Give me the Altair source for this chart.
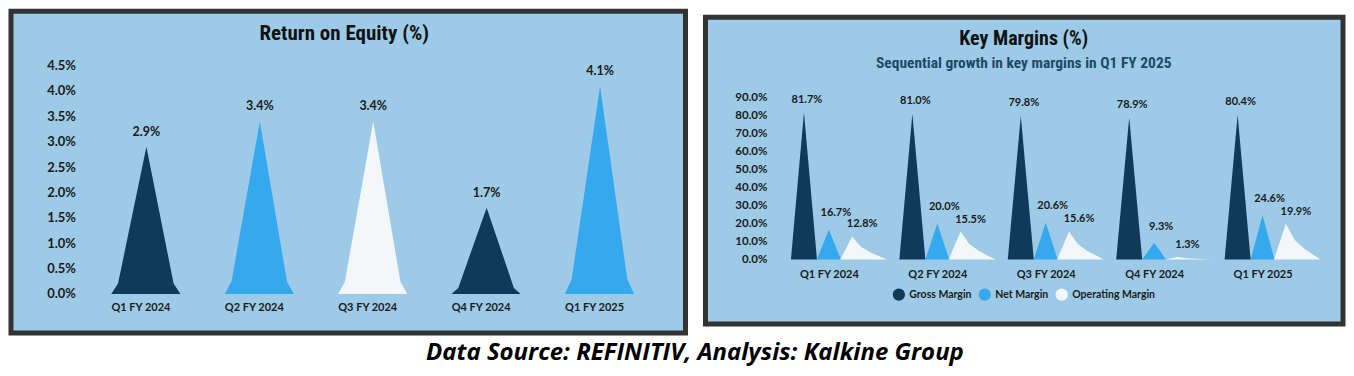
import json
import altair as alt
import pandas as pd

# ---------------- data ----------------
quarters = ["Q1 FY 2024", "Q2 FY 2024", "Q3 FY 2024", "Q4 FY 2024", "Q1 FY 2025"]
roe = [2.9, 3.4, 3.4, 1.7, 4.1]
roe_shade = ["Dark", "Bright", "White", "Dark", "Bright"]

series_names = ["Gross Margin", "Net Margin", "Operating Margin"]
gross_margin = [81.7, 81.0, 79.8, 78.9, 80.4]
net_margin = [16.7, 20.0, 20.6, 9.3, 24.6]
operating_margin = [12.8, 15.5, 15.6, 1.3, 19.9]

roe_ticks = [0, 0.5, 1.0, 1.5, 2.0, 2.5, 3.0, 3.5, 4.0, 4.5]
margin_ticks = [0, 10, 20, 30, 40, 50, 60, 70, 80, 90]

# ---------------- style ----------------
NAVY = "#0f3b58"
BLUE = "#35a8ee"
WHITE = "#f4f7fa"
BG = "#9dcbe7"
BORDER = "#333333"
TITLE_FONT = "Roboto Condensed, Liberation Sans Narrow, DejaVu Sans Condensed, Roboto, sans-serif"
LABEL_FONT = "Lato"

# spike outline profiles (relative x offset in category units, fraction of height)
roe_profile = [(-0.31, 0), (-0.25, 0.07), (0, 1), (0.24, 0.07), (0.30, 0)]
margin_offsets = {"Gross Margin": -0.23, "Net Margin": 0.0, "Operating Margin": 0.215}
margin_profiles = {
    "Gross Margin": [(-0.12, 0), (0, 1), (0.12, 0)],
    "Net Margin": [(-0.11, 0), (0, 1), (0.11, 0)],
    "Operating Margin": [(-0.11, 0), (0, 1), (0.08, 0.55), (0.17, 0.3), (0.32, 0)],
}
# value-label nudges (dx, dy) per series
label_nudge = {"Gross Margin": (3, -13), "Net Margin": (7, -16), "Operating Margin": (10, -12)}

rows = []
for i, (v, s) in enumerate(zip(roe, roe_shade)):
    for dx, f in roe_profile:
        rows.append({"spike": i, "shade": s, "x": i + dx, "y": v * f})
roe_df = pd.DataFrame(rows)
roe_lab = pd.DataFrame({"x": list(range(5)), "y": roe, "label": [f"{v:.1f}%" for v in roe]})

m_rows, m_labs = [], []
for name, vals in zip(series_names, [gross_margin, net_margin, operating_margin]):
    for i, v in enumerate(vals):
        c = i + margin_offsets[name]
        for dx, f in margin_profiles[name]:
            m_rows.append({"spike": f"{name}-{i}", "series": name, "x": c + dx, "y": v * f})
        m_labs.append({"x": c, "y": v, "label": f"{v:.1f}%", "series": name})
m_df = pd.DataFrame(m_rows)
m_lab_df = pd.DataFrame(m_labs)


def x_axis(offset, lab_off):
    return alt.Axis(values=list(range(5)), labelExpr=f"{json.dumps(quarters)}[datum.value]",
                    orient="bottom", offset=offset, domain=False, ticks=False, tickSize=0,
                    grid=False, title=None, labelFont=LABEL_FONT, labelFontSize=11,
                    labelFontWeight="bold", labelColor="#1a1a1a", labelPadding=0,
                    labelOffset=lab_off, labelFlush=False, labelOverlap=False, zindex=2)


def y_axis(values, offset, size):
    return alt.Axis(values=values, labelExpr="format(datum.value, '.1f') + '%'",
                    orient="left", offset=offset, domain=False, ticks=False, tickSize=0,
                    grid=False, title=None, labelFont=LABEL_FONT, labelFontSize=size,
                    labelFontWeight="bold", labelColor="#1a1a1a", labelPadding=3,
                    labelOverlap=False, labelFlush=False, zindex=2)


# ---------------- left panel ----------------
LW, LH = 675, 322
xl = alt.Scale(domain=[0, 4], range=[135.5, 589.5], nice=False, zero=False)
yl = alt.Scale(domain=[0, 4.5], range=[283, 54.5], nice=False, zero=False)
xl_axis = x_axis(-31, -6)
yl_axis = y_axis(roe_ticks, -67.5, 13)

roe_area = alt.Chart(roe_df).mark_area(opacity=1, interpolate="linear").encode(
    x=alt.X("x:Q", scale=xl, axis=xl_axis),
    y=alt.Y("y:Q", scale=yl, stack=None, axis=yl_axis),
    detail="spike:N",
    color=alt.Color("shade:N", scale=alt.Scale(domain=["Dark", "Bright", "White"],
                                                range=[NAVY, BLUE, WHITE]), legend=None),
)
roe_text = alt.Chart(roe_lab).mark_text(font=LABEL_FONT, fontSize=12.5, fontWeight="bold",
                                        color="#1a1a1a", dy=-15, baseline="middle").encode(
    x=alt.X("x:Q", scale=xl, axis=xl_axis), y=alt.Y("y:Q", scale=yl, axis=yl_axis),
    text="label:N")
roe_title = alt.Chart(pd.DataFrame({"t": ["Return on Equity (%)"]})).mark_text(
    font=TITLE_FONT, fontSize=21, fontWeight="bold", color="#111111", baseline="middle"
).encode(x=alt.value(333.5), y=alt.value(22.5), text="t:N")

left = alt.layer(roe_area, roe_text, roe_title).properties(
    width=LW, height=LH,
    view=alt.ViewBackground(fill=BG, stroke=BORDER, strokeWidth=5))

# ---------------- right panel ----------------
RW, RH = 638, 314
xr = alt.Scale(domain=[0, 4], range=[123.5, 557.5], nice=False, zero=False)
yr = alt.Scale(domain=[0, 90], range=[248.5, 86.5], nice=False, zero=False)
xr_axis = x_axis(-56, 0)
yr_axis = y_axis(margin_ticks, -64.5, 11.5)

panel = alt.Chart(pd.DataFrame({"p": [1]})).mark_rect(
    fill=BG, stroke=BORDER, strokeWidth=5).encode(
    x=alt.value(0), x2=alt.value(RW), y=alt.value(6), y2=alt.value(313))

m_area = alt.Chart(m_df).mark_area(opacity=1, interpolate="linear").encode(
    x=alt.X("x:Q", scale=xr, axis=xr_axis),
    y=alt.Y("y:Q", scale=yr, stack=None, axis=yr_axis),
    detail="spike:N",
    color=alt.Color("series:N", scale=alt.Scale(domain=series_names, range=[NAVY, BLUE, WHITE]),
                    legend=alt.Legend(orient="none", legendX=187, legendY=277,
                                      direction="horizontal", title=None, symbolType="circle",
                                      symbolSize=150, symbolStrokeWidth=0, symbolOpacity=1,
                                      labelFont=LABEL_FONT, labelFontSize=10.5,
                                      labelFontWeight="bold", labelColor="#1a1a1a",
                                      columnPadding=6, labelOffset=4)),
)
m_texts = []
for name in series_names:
    ndx, ndy = label_nudge[name]
    m_texts.append(
        alt.Chart(m_lab_df).transform_filter(alt.datum.series == name).mark_text(
            font=LABEL_FONT, fontSize=11, fontWeight="bold", color="#1a1a1a",
            dx=ndx, dy=ndy, baseline="middle").encode(
            x=alt.X("x:Q", scale=xr, axis=xr_axis), y=alt.Y("y:Q", scale=yr, axis=yr_axis),
            text="label:N"))
m_title = alt.Chart(pd.DataFrame({"t": ["Key Margins (%)"]})).mark_text(
    font=TITLE_FONT, fontSize=20, fontWeight="bold", color="#111111", baseline="middle"
).encode(x=alt.value(318.5), y=alt.value(27.5), text="t:N")
m_sub = alt.Chart(pd.DataFrame({"t": ["Sequential growth in key margins in Q1 FY 2025"]})).mark_text(
    font=TITLE_FONT, fontSize=15.5, fontWeight="bold", color="#1e4a66", baseline="middle"
).encode(x=alt.value(318.5), y=alt.value(51.5), text="t:N")

right = alt.layer(panel, m_area, *m_texts, m_title, m_sub).properties(width=RW, height=RH)

chart = alt.hconcat(left, right, spacing=14).resolve_scale(
    color="independent", x="independent", y="independent"
).resolve_legend(color="independent").properties(
    background="white",
    padding={"left": 0, "top": 0, "right": 0, "bottom": 0},
    title=alt.TitleParams(
        "Data Source: REFINITIV, Analysis: Kalkine Group", orient="bottom", anchor="middle",
        font="Open Sans", fontSize=24, fontStyle="italic", fontWeight="bold", color="#000000",
        offset=6, dx=18),
).configure_view(strokeWidth=0)

chart.save("out.html", embed_options={"renderer": "svg", "actions": False})
